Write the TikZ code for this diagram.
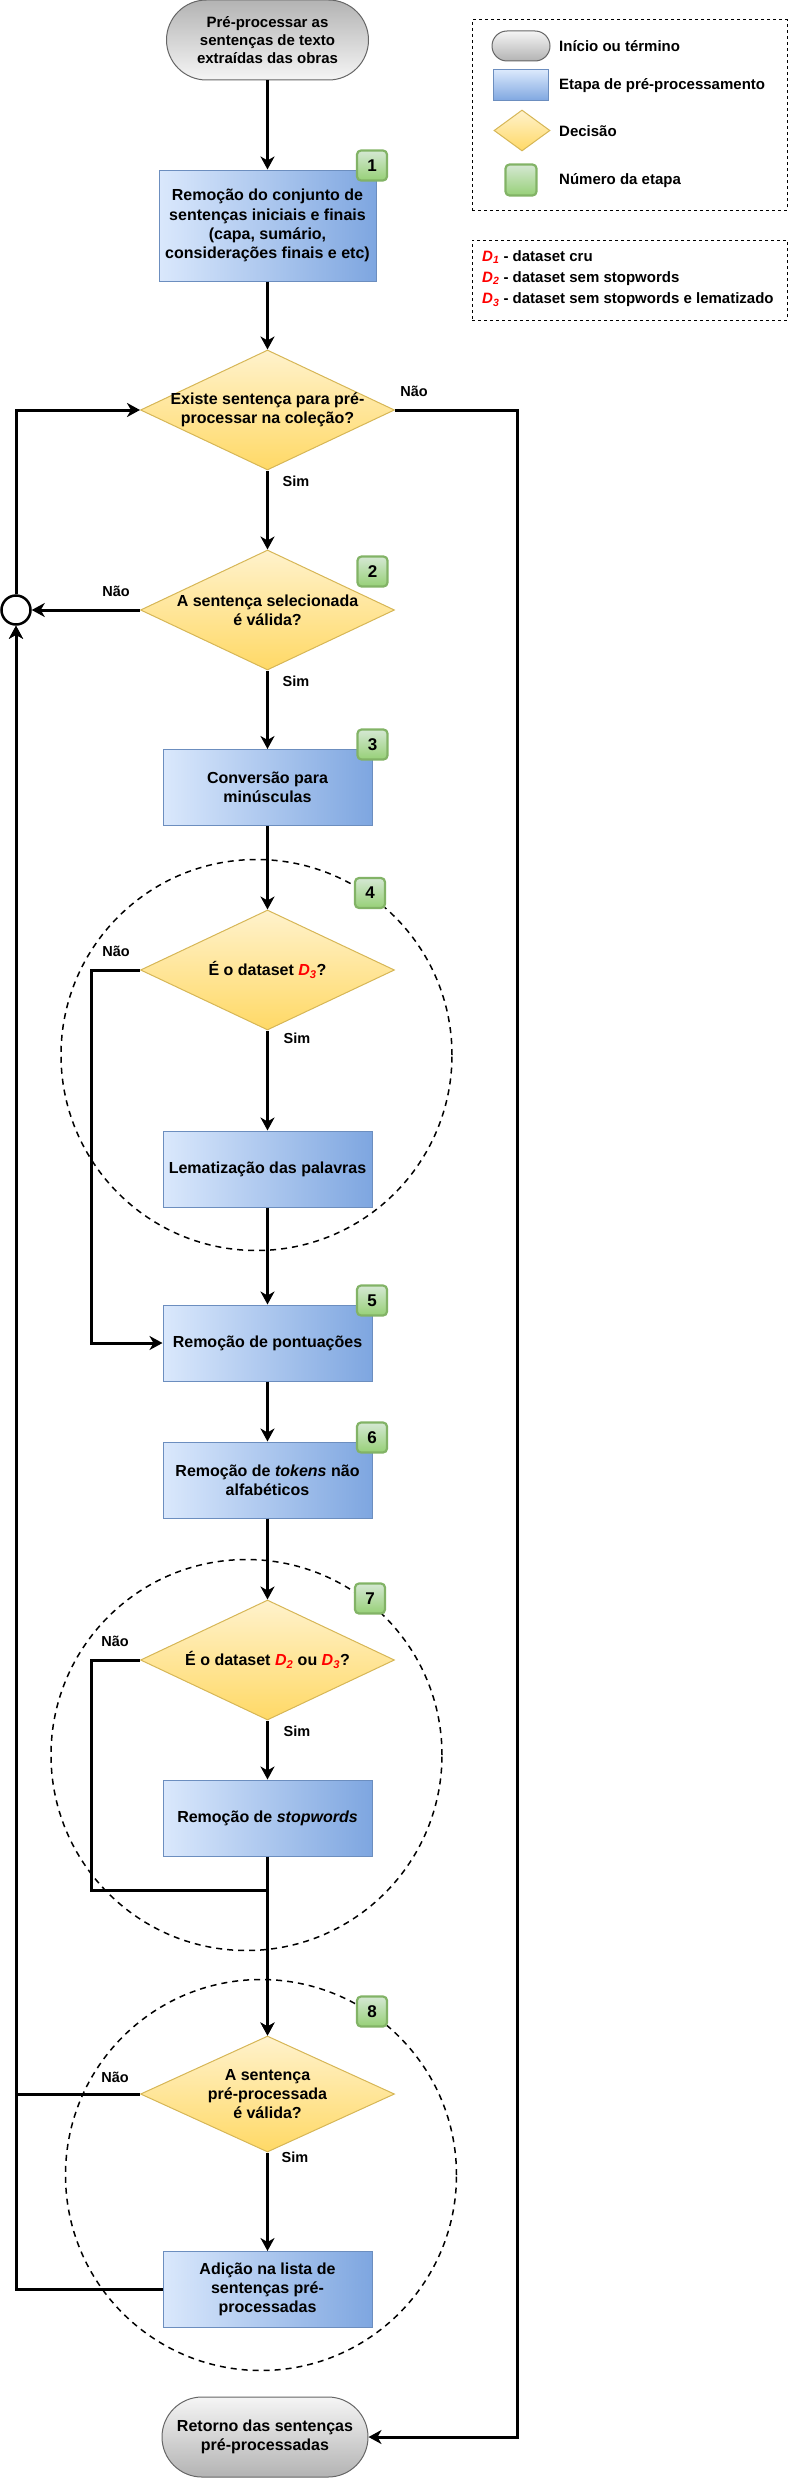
\documentclass[tikz,border=0pt]{standalone}
\usepackage{fontspec}
\setmainfont{Liberation Sans}
\usetikzlibrary{shapes.geometric,arrows.meta}
\definecolor{boxL}{HTML}{DAE8FC}\definecolor{boxR}{HTML}{7EA6E0}\definecolor{boxS}{HTML}{6C8EBF}
\definecolor{decT}{HTML}{FFF2CC}\definecolor{decB}{HTML}{FFD966}\definecolor{decS}{HTML}{D6B656}
\definecolor{grT}{HTML}{D5E8D4}\definecolor{grB}{HTML}{97D077}\definecolor{grS}{HTML}{82B366}
\definecolor{tmL}{HTML}{F5F5F5}\definecolor{tmD}{HTML}{B3B3B3}\definecolor{tmS}{HTML}{666666}
\definecolor{dred}{HTML}{FF0000}
\newcommand{\mainfs}{\bfseries\fontsize{16}{19.2}\selectfont}
\newcommand{\termfs}{\bfseries\fontsize{15}{18}\selectfont}
\newcommand{\legfs}{\bfseries\fontsize{15}{18}\selectfont}
\newcommand{\lblfs}{\bfseries\fontsize{14.5}{17}\selectfont}
\newcommand{\badgefs}{\bfseries\fontsize{17}{20}\selectfont}
\newcommand{\Dset}[1]{{\color{dred}\itshape D\textsubscript{#1}}}
\tikzset{
  procbox/.style={draw=boxS, line width=1pt, left color=boxL, right color=boxR,
    minimum width=209pt, minimum height=76pt, inner sep=0pt, align=center, font=\mainfs},
  decbox/.style={diamond, draw=decS, line width=1pt, top color=decT, bottom color=decB,
    minimum width=254pt, minimum height=120pt, inner sep=0pt},
  termbox/.style={draw=tmS, line width=1pt, rounded corners=40pt,
    minimum width=202pt, minimum height=80pt, inner sep=0pt, align=center},
  badge/.style={draw=grS, line width=2.2pt, rounded corners=4pt, top color=grT, bottom color=grB,
    minimum size=30pt, inner sep=0pt, font=\badgefs},
  grp/.style={circle, draw, dash pattern=on 6pt off 5pt, line width=1.5pt,
    minimum size=391pt, inner sep=0pt},
  legbox/.style={draw, dash pattern=on 3pt off 3pt, line width=1pt, inner sep=0pt},
  flow/.style={line width=3pt, -{Stealth[length=13pt,width=14pt,inset=4pt]}},
  lbl/.style={font=\lblfs, inner sep=0pt},
  txt/.style={inner sep=0pt, align=center, font=\mainfs},
  legtxt/.style={inner sep=0pt, anchor=west, font=\legfs},
}
\begin{document}
\begin{tikzpicture}[x=1pt,y=-1pt]
\useasboundingbox (0,0) rectangle (788,2478);
% group circles
\node[grp] (g4) at (256.5,1055) {};
\node[grp] (g7) at (246.5,1755) {};
\node[grp] (g8) at (261,2175) {};
% terminals
\node[termbox, top color=tmD, bottom color=tmL, font=\termfs] (st) at (267.5,40)
  {Pré-processar as\\sentenças de texto\\extraídas das obras};
\node[termbox, top color=tmL, bottom color=tmD, minimum width=206pt, font=\mainfs] (en) at (265,2437)
  {Retorno das sentenças\\pré-processadas};
% process boxes
\node[procbox, minimum width=217pt, minimum height=111pt] (b1) at (267.5,225.5)
  {Remoção do conjunto de\\sentenças iniciais e finais\\(capa, sumário,\\considerações finais e etc)};
\node[procbox] (b3) at (267.5,787.5) {Conversão para\\minúsculas};
\node[procbox] (lm) at (267.5,1169) {Lematização das palavras};
\node[procbox] (b5) at (267.5,1343) {Remoção de pontuações};
\node[procbox] (b6) at (267.5,1480) {Remoção de \textit{tokens} não\\alfabéticos};
\node[procbox] (sw) at (267.5,1818) {Remoção de \textit{stopwords}};
\node[procbox] (ad) at (267.5,2289.5) {Adição na lista de\\sentenças pré-\\processadas};
% decisions
\node[decbox] (d1) at (267.5,410) {};
\node[txt] (d1t) at (d1) {Existe sentença para pré-\\processar na coleção?};
\node[decbox] (d2) at (267.5,610) {};
\node[txt] (d2t) at (d2) {A sentença selecionada\\é válida?};
\node[decbox] (d4) at (267.5,970) {};
\node[txt] (d4t) at (d4) {É o dataset \Dset{3}?};
\node[decbox] (d7) at (267.5,1660) {};
\node[txt] (d7t) at (d7) {É o dataset \Dset{2} ou \Dset{3}?};
\node[decbox, minimum height=116pt] (d8) at (267.5,2094) {};
\node[txt] (d8t) at (d8) {A sentença\\pré-processada\\é válida?};
% connector circle
\node[circle, draw, line width=2.5pt, fill=white, minimum size=29pt, inner sep=0pt] (cn) at (16,610) {};
% coordinates for bends
\coordinate (rr) at (517,410);
\coordinate (n4) at (91,970);
\coordinate (n7) at (91,1660);
\coordinate (j7) at (91,1890);
% edges
\draw[flow] (st.south) -- (b1.north);
\draw[flow] (b1.south) -- (d1.north);
\draw[flow] (d1.east) -- (rr) |- (en.east);
\draw[flow] (d1.south) -- (d2.north);
\draw[flow] (d2.west) -- (cn.east);
\draw[flow] (cn.north) |- (d1.west);
\draw[flow] (d2.south) -- (b3.north);
\draw[flow] (b3.south) -- (d4.north);
\draw[flow] (d4.west) -- (n4) |- (b5.west);
\draw[flow] (d4.south) -- (lm.north);
\draw[flow] (lm.south) -- (b5.north);
\draw[flow] (b5.south) -- (b6.north);
\draw[flow] (b6.south) -- (d7.north);
\draw[flow] (d7.south) -- (sw.north);
\draw[flow] (d7.west) -- (n7) -- (j7) -| (d8.north);
\draw[flow] (sw.south) -- (d8.north);
\draw[flow] (d8.south) -- (ad.north);
\draw[flow] (d8.west) -| (cn.south);
\draw[flow] (ad.west) -| (cn.south);
% edge labels
\node[lbl] (l1) at (414,391) {Não};
\node[lbl] (l2) at (296,481) {Sim};
\node[lbl] (l3) at (116,591) {Não};
\node[lbl] (l4) at (296,681) {Sim};
\node[lbl] (l5) at (116,951) {Não};
\node[lbl] (l6) at (297,1038) {Sim};
\node[lbl] (l7) at (115,1641) {Não};
\node[lbl] (l8) at (297,1731) {Sim};
\node[lbl] (l9) at (115,2077) {Não};
\node[lbl] (l10) at (295,2157) {Sim};
% badges
\node[badge] (k1) at (372,165.5) {1};
\node[badge] (k2) at (372.5,571.5) {2};
\node[badge] (k3) at (372.5,744.5) {3};
\node[badge] (k4) at (370,893) {4};
\node[badge] (k5) at (372,1300.5) {5};
\node[badge] (k6) at (372,1437.5) {6};
\node[badge] (k7) at (370,1598.5) {7};
\node[badge] (k8) at (372,2011.5) {8};
% legend 1
\node[legbox, minimum width=315pt, minimum height=190pt] (lg1) at (629.5,115) {};
\node[draw=tmS, line width=1pt, rounded corners=15pt, top color=tmL, bottom color=tmD,
  minimum width=58pt, minimum height=30pt, inner sep=0pt] (lgt) at (521,46) {};
\node[legtxt] (lgtt) at (559,46) {Início ou término};
\node[draw=boxS, line width=1pt, top color=boxL, bottom color=boxR,
  minimum width=55pt, minimum height=31pt, inner sep=0pt] (lgb) at (520.5,85.5) {};
\node[legtxt] (lgbt) at (559,86) {Etapa de pré-processamento};
\node[diamond, draw=decS, line width=1pt, top color=decT, bottom color=decB,
  minimum width=56pt, minimum height=41pt, inner sep=0pt] (lgd) at (522,130.5) {};
\node[legtxt] (lgdt) at (559,131) {Decisão};
\node[badge, minimum size=31pt] (lgg) at (521,180) {};
\node[legtxt] (lggt) at (559,181) {Número da etapa};
% legend 2
\node[legbox, minimum width=315pt, minimum height=80pt] (lg2) at (629.5,280) {};
\node[legtxt] (lx1) at (482,257) {\Dset{1} - dataset cru};
\node[legtxt] (lx2) at (482,278.5) {\Dset{2} - dataset sem stopwords};
\node[legtxt] (lx3) at (482,300) {\Dset{3} - dataset sem stopwords e lematizado};
\end{tikzpicture}
\end{document}
